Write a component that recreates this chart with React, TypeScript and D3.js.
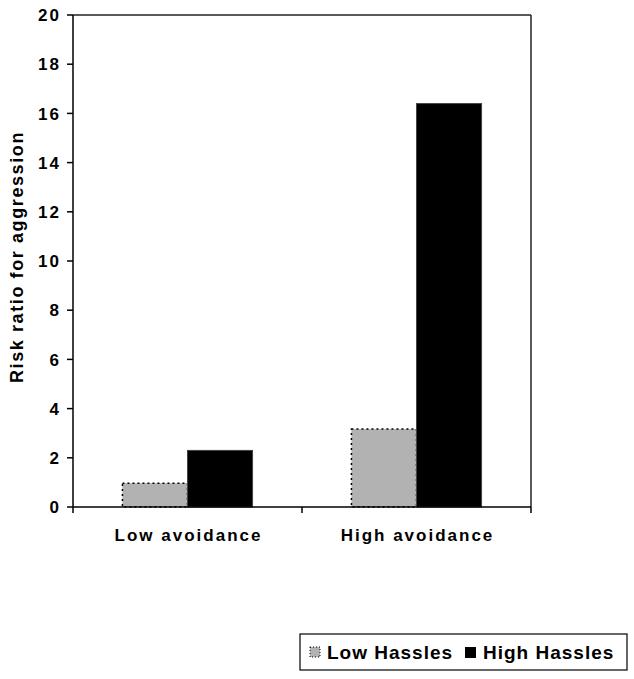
import React from "react";
import * as d3 from "d3";

const categories = ["Low avoidance", "High avoidance"];
const seriesNames = ["Low Hassles", "High Hassles"];
const lowHassles = [0.97, 3.17];
const highHassles = [2.3, 16.4];
const yTicks = [0, 2, 4, 6, 8, 10, 12, 14, 16, 18, 20];

const W = 634;
const H = 679;
const left = 73;
const right = 531;
const top = 15;
const bottom = 507;
const font = "'Liberation Sans', Arial, sans-serif";

export default function App() {
  const x = d3.scaleBand<string>().domain(categories).range([left, right]).padding(0);
  const y = d3.scaleLinear().domain([0, 20]).range([bottom, top]);
  const inner = d3.scaleBand<string>().domain(seriesNames).range([0, x.bandwidth()]).paddingInner(0).paddingOuter(0.76);
  const series = [lowHassles, highHassles];
  const fills = ["#b2b2b2", "#000000"];

  return (
    <svg width={W} height={H} style={{ position: "absolute", left: 0, top: 0, background: "#fff" }} fontFamily={font}>
      {categories.map((c, i) =>
        series.map((s, j) => {
          const bx = (x(c) as number) + (inner(seriesNames[j]) as number);
          const bw = inner.bandwidth();
          return (
            <rect
              key={c + j}
              x={bx}
              y={y(s[i])}
              width={bw}
              height={bottom - y(s[i])}
              fill={fills[j]}
              stroke={j === 0 ? "#000" : "#444"}
              strokeWidth={j === 0 ? 1.5 : 1}
              strokeDasharray={j === 0 ? "2,3" : undefined}
            />
          );
        })
      )}
      <line x1={left} x2={right} y1={top} y2={top} stroke="#222" strokeWidth={1.5} />
      <line x1={right} x2={right} y1={top} y2={bottom} stroke="#222" strokeWidth={1.5} />
      <line x1={left} x2={left} y1={top} y2={bottom} stroke="#000" strokeWidth={1.5} />
      {yTicks.map((t) => (
        <g key={t}>
          <line x1={left - 6} x2={left} y1={y(t)} y2={y(t)} stroke="#000" strokeWidth={1.5} />
          <text x={61} y={y(t)} dy="0.36em" textAnchor="end" fontSize={17} fontWeight="bold" letterSpacing={2}>
            {t}
          </text>
        </g>
      ))}
      <line x1={left} x2={right} y1={bottom} y2={bottom} stroke="#000" strokeWidth={1.5} />
      {[left, ...categories.map((c) => (x(c) as number) + x.bandwidth())].map((px, i) => (
        <line key={i} x1={px} x2={px} y1={bottom} y2={bottom + 6} stroke="#000" strokeWidth={1.5} />
      ))}
      {categories.map((c) => (
        <text key={c} x={(x(c) as number) + x.bandwidth() / 2 + 1} y={541} textAnchor="middle" fontSize={17} fontWeight="bold" letterSpacing={2}>
          {c}
        </text>
      ))}
      <text
        transform={`translate(23, 257) rotate(-90)`}
        textAnchor="middle"
        fontSize={18}
        fontWeight="bold"
        letterSpacing={1.6}
      >
        Risk ratio for aggression
      </text>
      <rect x={300} y={634} width={327} height={36} fill="#fff" stroke="#000" strokeWidth={1.2} />
      <rect x={310} y={647} width={10} height={10} fill={fills[0]} stroke="#000" strokeWidth={1} strokeDasharray="1,2" />
      <text x={327} y={659} fontSize={19} fontWeight="bold" letterSpacing={1}>{seriesNames[0]}</text>
      <rect x={465} y={647} width={11} height={11} fill={fills[1]} />
      <text x={483} y={659} fontSize={19} fontWeight="bold" letterSpacing={1}>{seriesNames[1]}</text>
    </svg>
  );
}
